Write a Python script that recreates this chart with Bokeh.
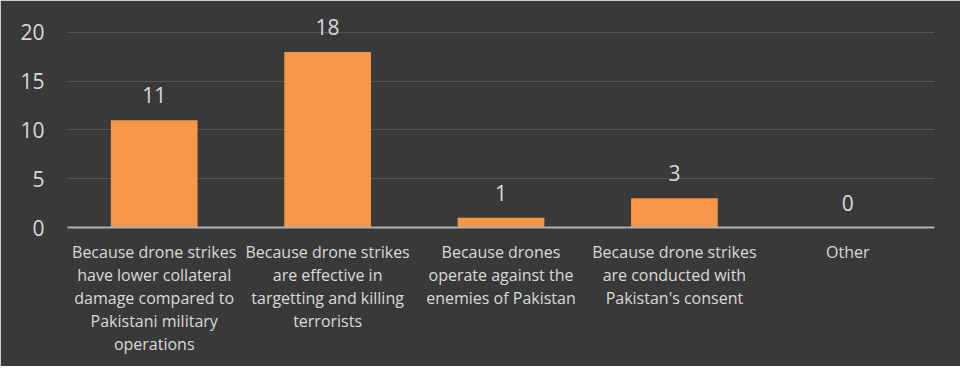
from bokeh.plotting import figure
from bokeh.models import ColumnDataSource, FactorRange, Range1d, FixedTicker
from bokeh.embed import file_html
from bokeh.resources import INLINE
from bokeh.core.properties import value

categories = [
    "Because drone strikes\nhave lower collateral\ndamage compared to\nPakistani military\noperations",
    "Because drone strikes\nare effective in\ntargetting and killing\nterrorists",
    "Because drones\noperate against the\nenemies of Pakistan",
    "Because drone strikes\nare conducted with\nPakistan's consent",
    "Other",
]
counts = [11, 18, 1, 3, 0]
y_ticks = [0, 5, 10, 15, 20]

BG = "#393939"
TXT = "#d9d9d9"
FONT = "Open Sans"

src = ColumnDataSource(dict(cat=categories, n=counts, lbl=[str(v) for v in counts]))

p = figure(
    width=960, height=366,
    x_range=FactorRange(*categories, range_padding=0),
    y_range=Range1d(0, 21.74),
    output_backend="svg", toolbar_location=None,
    min_border_left=67, min_border_right=26, min_border_top=15, min_border_bottom=139,
)
p.background_fill_color = BG
p.border_fill_color = BG
p.outline_line_color = BG
p.outline_line_width = 2

p.vbar(x="cat", top="n", width=0.5, source=src, fill_color="#F79646", line_color=None)
p.text(x="cat", y="n", text="lbl", source=src, text_align="center", text_baseline="alphabetic",
       y_offset=-25, text_font=value(FONT), text_font_size="21px", text_color=TXT)

p.xgrid.grid_line_color = None
p.ygrid.grid_line_color = "#555555"
p.ygrid.grid_line_width = 1
p.ygrid.ticker = FixedTicker(ticks=y_ticks)

p.yaxis.ticker = FixedTicker(ticks=y_ticks)
p.yaxis.axis_line_color = None
p.yaxis.major_tick_line_color = None
p.yaxis.minor_tick_line_color = None
p.yaxis.major_label_standoff = 17
p.yaxis.major_label_text_font = FONT
p.yaxis.major_label_text_font_size = "21px"
p.yaxis.major_label_text_color = TXT

p.xaxis.axis_line_color = "#b0b0b0"
p.xaxis.axis_line_width = 2
p.xaxis.major_tick_line_color = None
p.xaxis.minor_tick_line_color = None
p.xaxis.major_label_standoff = 7
p.xaxis.major_label_text_font = FONT
p.xaxis.major_label_text_font_size = "16px"
p.xaxis.major_label_text_color = TXT
p.xaxis.major_label_text_line_height = 1.05
p.xaxis.major_label_orientation = "horizontal"

open("out.html", "w").write(file_html(p, INLINE))
